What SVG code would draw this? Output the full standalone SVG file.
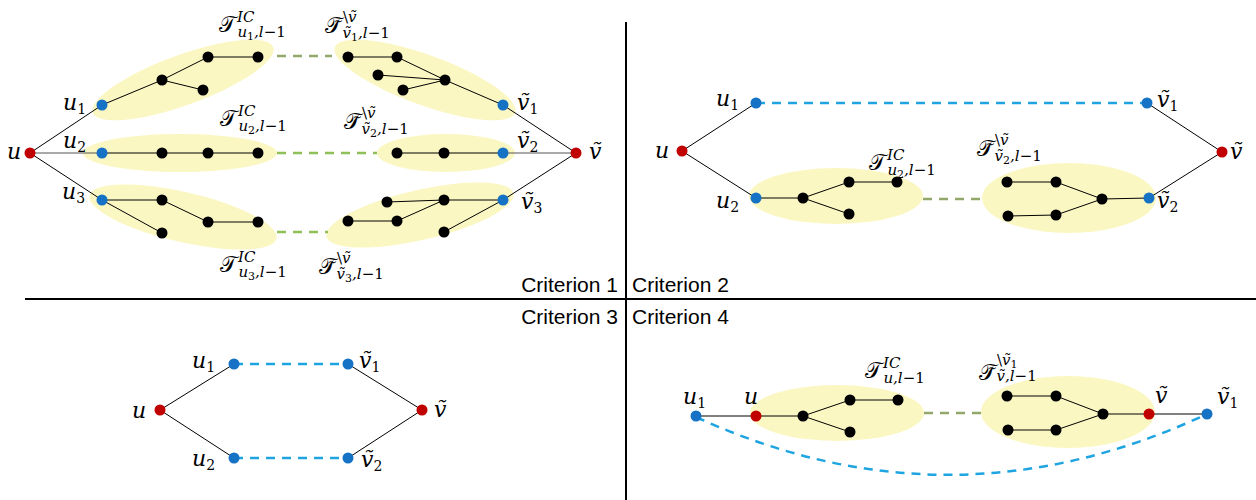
<svg xmlns="http://www.w3.org/2000/svg" width="1256" height="500" viewBox="0 0 1256 500">
<style>
.bg{fill:#ffffff}
.ell{fill:#fbf7c2;stroke:none}
.e{stroke:#000;stroke-width:1;fill:none}
.eg{stroke:#555;stroke-width:1.2;fill:none}
.gd{stroke:#8fbf58;stroke-width:2.5;stroke-dasharray:9 7;fill:none}
.gd2{stroke:#92a86a;stroke-width:2.5;stroke-dasharray:9 7;fill:none}
.bd{stroke:#1ea4e1;stroke-width:2.5;stroke-dasharray:9 7;fill:none}
.div{stroke:#000;stroke-width:2;fill:none}
.k{fill:#000}
.b{fill:#1672c4}
.r{fill:#c00000}
.m{font-family:"DejaVu Serif","Liberation Serif",serif;font-style:italic;font-size:22px;fill:#000}
.sb{font-family:"DejaVu Serif","Liberation Serif",serif;font-style:normal;font-size:14px}
.cal{font-family:"DejaVu Sans","Noto Sans","DejaVu Serif",serif;font-style:normal;font-size:22px;fill:#000}
.sm{font-family:"DejaVu Serif","Liberation Serif",serif;font-style:italic;font-size:15px}
.ss{font-style:normal;font-size:11px}
.up{font-style:normal}
.crit{font-family:"Liberation Sans",Arial,sans-serif;font-size:21px;fill:#000}
</style>
<rect class="bg" x="0" y="0" width="1256" height="500"/>

<g id="dividers">
<line class="div" x1="626" y1="22" x2="626" y2="500"/>
<line class="div" x1="25" y1="299" x2="1256" y2="299"/>
<text class="crit" x="618" y="292" text-anchor="end">Criterion 1</text>
<text class="crit" x="632" y="292">Criterion 2</text>
<text class="crit" x="618" y="324" text-anchor="end">Criterion 3</text>
<text class="crit" x="632" y="324">Criterion 4</text>
</g>

<g id="subtrees">
<ellipse class="ell" cx="183" cy="80" rx="96" ry="25" transform="rotate(-20 183 80)"/>
<ellipse class="ell" cx="180" cy="153" rx="97" ry="19"/>
<ellipse class="ell" cx="183" cy="217" rx="96" ry="25" transform="rotate(13 183 217)"/>
<ellipse class="ell" cx="425" cy="80" rx="96" ry="25" transform="rotate(20 425 80)"/>
<ellipse class="ell" cx="446" cy="153" rx="69" ry="19"/>
<ellipse class="ell" cx="420" cy="215" rx="96" ry="25" transform="rotate(-13 420 215)"/>
<ellipse class="ell" cx="836" cy="196" rx="87" ry="28"/>
<ellipse class="ell" cx="1069" cy="198" rx="87" ry="35"/>
<ellipse class="ell" cx="837" cy="413" rx="87" ry="28"/>
<ellipse class="ell" cx="1068" cy="412" rx="87" ry="36"/>
</g>

<g id="connectors">
<!-- Criterion 1 -->
<line class="e" x1="30" y1="153" x2="102" y2="105"/>
<line class="eg" x1="30" y1="153" x2="102" y2="153"/>
<line class="e" x1="30" y1="153" x2="102" y2="200"/>
<polyline class="e" points="102,105 162,80 208,57 258,57"/>
<line class="e" x1="162" y1="80" x2="203" y2="90"/>
<polyline class="e" points="102,153 162,153 208,153 258,153"/>
<polyline class="e" points="102,200 162,200 208,222 258,222"/>
<line class="e" x1="102" y1="200" x2="162" y2="233"/>
<polyline class="e" points="348,57 397,57 445,80 503,105 576,153"/>
<line class="e" x1="378" y1="75" x2="445" y2="80"/>
<line class="e" x1="403" y1="90" x2="445" y2="80"/>
<polyline class="e" points="397,153 444,153 503,153"/>
<line class="eg" x1="503" y1="153" x2="576" y2="153"/>
<line class="e" x1="576" y1="153" x2="503" y2="200"/>
<polyline class="e" points="503,200 444,200 387,202"/>
<polyline class="e" points="444,200 397,221 348,221"/>
<line class="e" x1="503" y1="200" x2="444" y2="232"/>
<line class="gd2" x1="277" y1="56" x2="332" y2="56"/>
<line class="gd" x1="277" y1="153" x2="377" y2="153"/>
<line class="gd" x1="277" y1="232" x2="328" y2="232"/>
<!-- Criterion 2 -->
<line class="e" x1="682" y1="151" x2="756" y2="103"/>
<line class="e" x1="682" y1="151" x2="756" y2="198"/>
<polyline class="e" points="756,198 803,198 849,182 897,182"/>
<line class="e" x1="803" y1="198" x2="849" y2="214"/>
<line class="bd" x1="756" y1="103" x2="1147" y2="103"/>
<line class="gd2" x1="923" y1="199" x2="982" y2="199"/>
<polyline class="e" points="1007,182 1056,182 1102,199 1149,198"/>
<polyline class="e" points="1008,216 1056,215 1102,199"/>
<line class="e" x1="1147" y1="103" x2="1222" y2="152"/>
<line class="e" x1="1222" y1="152" x2="1149" y2="198"/>
<!-- Criterion 3 -->
<line class="e" x1="160" y1="410" x2="234" y2="364"/>
<line class="e" x1="160" y1="410" x2="234" y2="458"/>
<line class="e" x1="348" y1="364" x2="422" y2="410"/>
<line class="e" x1="348" y1="458" x2="422" y2="410"/>
<line class="bd" x1="234" y1="364" x2="348" y2="364"/>
<line class="bd" x1="234" y1="458" x2="348" y2="458"/>
<!-- Criterion 4 -->
<polyline class="e" points="696,416 756,416 803,416 850,400 898,400"/>
<line class="e" x1="803" y1="416" x2="850" y2="432"/>
<line class="gd2" x1="924" y1="413" x2="982" y2="413"/>
<polyline class="e" points="1007,396 1056,396 1103,414 1149,414 1207,414"/>
<polyline class="e" points="1008,430 1056,430 1103,414"/>
<path class="bd" d="M696,417 Q951,534 1207,414"/>
</g>

<g id="nodes">
<!-- Criterion 1 -->
<g id="c1-u"><circle class="r" cx="30" cy="153" r="5.5"/><text class="m" x="7" y="159">u</text></g>
<g id="c1-u1"><circle class="b" cx="102" cy="105" r="5.5"/><text class="m" x="63" y="110">u<tspan class="sb" dy="4">1</tspan></text></g>
<g id="c1-u2"><circle class="b" cx="102" cy="153" r="5.5"/><text class="m" x="63" y="148">u<tspan class="sb" dy="4">2</tspan></text></g>
<g id="c1-u3"><circle class="b" cx="102" cy="200" r="5.5"/><text class="m" x="62" y="199">u<tspan class="sb" dy="4">3</tspan></text></g>
<g id="c1-t1">
<circle class="k" cx="162" cy="80" r="5.5"/><circle class="k" cx="208" cy="57" r="5.5"/><circle class="k" cx="258" cy="57" r="5.5"/><circle class="k" cx="203" cy="90" r="5.5"/>
<text class="cal" x="219" y="32">𝒯<tspan class="sm" dx="1" dy="-10">IC</tspan><tspan class="sm" dx="-17" dy="15">u<tspan class="ss" dy="3">1</tspan><tspan dy="-3">,</tspan>l<tspan class="up">−1</tspan></tspan></text>
</g>
<g id="c1-t2">
<circle class="k" cx="162" cy="153" r="5.5"/><circle class="k" cx="208" cy="153" r="5.5"/><circle class="k" cx="258" cy="153" r="5.5"/>
<text class="cal" x="220" y="126">𝒯<tspan class="sm" dx="1" dy="-10">IC</tspan><tspan class="sm" dx="-17" dy="15">u<tspan class="ss" dy="3">2</tspan><tspan dy="-3">,</tspan>l<tspan class="up">−1</tspan></tspan></text>
</g>
<g id="c1-t3">
<circle class="k" cx="162" cy="200" r="5.5"/><circle class="k" cx="208" cy="222" r="5.5"/><circle class="k" cx="258" cy="222" r="5.5"/><circle class="k" cx="162" cy="233" r="5.5"/>
<text class="cal" x="220" y="272">𝒯<tspan class="sm" dx="1" dy="-10">IC</tspan><tspan class="sm" dx="-17" dy="15">u<tspan class="ss" dy="3">3</tspan><tspan dy="-3">,</tspan>l<tspan class="up">−1</tspan></tspan></text>
</g>
<g id="c1-s1">
<circle class="k" cx="348" cy="57" r="5.5"/><circle class="k" cx="397" cy="57" r="5.5"/><circle class="k" cx="378" cy="75" r="5.5"/><circle class="k" cx="403" cy="90" r="5.5"/><circle class="k" cx="445" cy="80" r="5.5"/>
<text class="cal" x="325" y="33">𝒯̃<tspan class="sm" dx="1" dy="-11"><tspan class="up">\</tspan>ṽ</tspan><tspan class="sm" dx="-14" dy="16">ṽ<tspan class="ss" dy="3">1</tspan><tspan dy="-3">,</tspan>l<tspan class="up">−1</tspan></tspan></text>
</g>
<g id="c1-s2">
<circle class="k" cx="397" cy="153" r="5.5"/><circle class="k" cx="444" cy="153" r="5.5"/>
<text class="cal" x="344" y="129">𝒯̃<tspan class="sm" dx="1" dy="-11"><tspan class="up">\</tspan>ṽ</tspan><tspan class="sm" dx="-14" dy="16">ṽ<tspan class="ss" dy="3">2</tspan><tspan dy="-3">,</tspan>l<tspan class="up">−1</tspan></tspan></text>
</g>
<g id="c1-s3">
<circle class="k" cx="444" cy="200" r="5.5"/><circle class="k" cx="387" cy="202" r="5.5"/><circle class="k" cx="348" cy="221" r="5.5"/><circle class="k" cx="397" cy="221" r="5.5"/><circle class="k" cx="444" cy="232" r="5.5"/>
<text class="cal" x="319" y="274">𝒯̃<tspan class="sm" dx="1" dy="-11"><tspan class="up">\</tspan>ṽ</tspan><tspan class="sm" dx="-14" dy="16">ṽ<tspan class="ss" dy="3">3</tspan><tspan dy="-3">,</tspan>l<tspan class="up">−1</tspan></tspan></text>
</g>
<g id="c1-v1"><circle class="b" cx="503" cy="105" r="5.5"/><text class="m" x="517" y="110">ṽ<tspan class="sb" dy="4">1</tspan></text></g>
<g id="c1-v2"><circle class="b" cx="503" cy="153" r="5.5"/><text class="m" x="517" y="148">ṽ<tspan class="sb" dy="4">2</tspan></text></g>
<g id="c1-v3"><circle class="b" cx="503" cy="200" r="5.5"/><text class="m" x="521" y="209">ṽ<tspan class="sb" dy="4">3</tspan></text></g>
<g id="c1-v"><circle class="r" cx="576" cy="153" r="5.5"/><text class="m" x="589" y="159">ṽ</text></g>

<!-- Criterion 2 -->
<g id="c2-u"><circle class="r" cx="682" cy="151" r="5.5"/><text class="m" x="655" y="158">u</text></g>
<g id="c2-u1"><circle class="b" cx="756" cy="103" r="5.5"/><text class="m" x="716" y="106">u<tspan class="sb" dy="4">1</tspan></text></g>
<g id="c2-u2"><circle class="b" cx="756" cy="198" r="5.5"/><text class="m" x="716" y="208">u<tspan class="sb" dy="4">2</tspan></text></g>
<g id="c2-t">
<circle class="k" cx="803" cy="198" r="5.5"/><circle class="k" cx="849" cy="182" r="5.5"/><circle class="k" cx="897" cy="182" r="5.5"/><circle class="k" cx="849" cy="214" r="5.5"/>
<text class="cal" x="869" y="170">𝒯<tspan class="sm" dx="1" dy="-10">IC</tspan><tspan class="sm" dx="-17" dy="15">u<tspan class="ss" dy="3">2</tspan><tspan dy="-3">,</tspan>l<tspan class="up">−1</tspan></tspan></text>
</g>
<g id="c2-s">
<circle class="k" cx="1007" cy="182" r="5.5"/><circle class="k" cx="1056" cy="182" r="5.5"/><circle class="k" cx="1102" cy="199" r="5.5"/><circle class="k" cx="1008" cy="216" r="5.5"/><circle class="k" cx="1056" cy="215" r="5.5"/>
<text class="cal" x="977" y="156">𝒯̃<tspan class="sm" dx="1" dy="-11"><tspan class="up">\</tspan>ṽ</tspan><tspan class="sm" dx="-14" dy="16">ṽ<tspan class="ss" dy="3">2</tspan><tspan dy="-3">,</tspan>l<tspan class="up">−1</tspan></tspan></text>
</g>
<g id="c2-v1"><circle class="b" cx="1147" cy="103" r="5.5"/><text class="m" x="1157" y="107">ṽ<tspan class="sb" dy="4">1</tspan></text></g>
<g id="c2-v"><circle class="r" cx="1222" cy="152" r="5.5"/><text class="m" x="1230" y="159">ṽ</text></g>
<g id="c2-v2"><circle class="b" cx="1149" cy="198" r="5.5"/><text class="m" x="1157" y="208">ṽ<tspan class="sb" dy="4">2</tspan></text></g>

<!-- Criterion 3 -->
<g id="c3-u"><circle class="r" cx="160" cy="410" r="5.5"/><text class="m" x="132" y="418">u</text></g>
<g id="c3-u1"><circle class="b" cx="234" cy="364" r="5.5"/><text class="m" x="192" y="368">u<tspan class="sb" dy="4">1</tspan></text></g>
<g id="c3-u2"><circle class="b" cx="234" cy="458" r="5.5"/><text class="m" x="192" y="466">u<tspan class="sb" dy="4">2</tspan></text></g>
<g id="c3-v1"><circle class="b" cx="348" cy="364" r="5.5"/><text class="m" x="359" y="368">ṽ<tspan class="sb" dy="4">1</tspan></text></g>
<g id="c3-v2"><circle class="b" cx="348" cy="458" r="5.5"/><text class="m" x="361" y="467">ṽ<tspan class="sb" dy="4">2</tspan></text></g>
<g id="c3-v"><circle class="r" cx="422" cy="410" r="5.5"/><text class="m" x="434" y="417">ṽ</text></g>

<!-- Criterion 4 -->
<g id="c4-u1"><circle class="b" cx="696" cy="416" r="5.5"/><text class="m" x="683" y="404">u<tspan class="sb" dy="4">1</tspan></text></g>
<g id="c4-u"><circle class="r" cx="756" cy="416" r="5.5"/><text class="m" x="744" y="404">u</text></g>
<g id="c4-t">
<circle class="k" cx="803" cy="416" r="5.5"/><circle class="k" cx="850" cy="400" r="5.5"/><circle class="k" cx="898" cy="400" r="5.5"/><circle class="k" cx="850" cy="432" r="5.5"/>
<text class="cal" x="865" y="378">𝒯<tspan class="sm" dx="1" dy="-10">IC</tspan><tspan class="sm" dx="-17" dy="15">u,l<tspan class="up">−1</tspan></tspan></text>
</g>
<g id="c4-s">
<circle class="k" cx="1007" cy="396" r="5.5"/><circle class="k" cx="1056" cy="396" r="5.5"/><circle class="k" cx="1103" cy="414" r="5.5"/><circle class="k" cx="1008" cy="430" r="5.5"/><circle class="k" cx="1056" cy="430" r="5.5"/>
<text class="cal" x="979" y="380">𝒯̃<tspan class="sm" dx="1" dy="-15"><tspan class="up">\</tspan>ṽ<tspan class="ss" dy="3">1</tspan></tspan><tspan class="sm" dx="-21" dy="13">ṽ,l<tspan class="up">−1</tspan></tspan></text>
</g>
<g id="c4-v"><circle class="r" cx="1149" cy="414" r="5.5"/><text class="m" x="1155" y="403">ṽ</text></g>
<g id="c4-v1"><circle class="b" cx="1207" cy="414" r="5.5"/><text class="m" x="1217" y="404">ṽ<tspan class="sb" dy="4">1</tspan></text></g>
</g>
</svg>
